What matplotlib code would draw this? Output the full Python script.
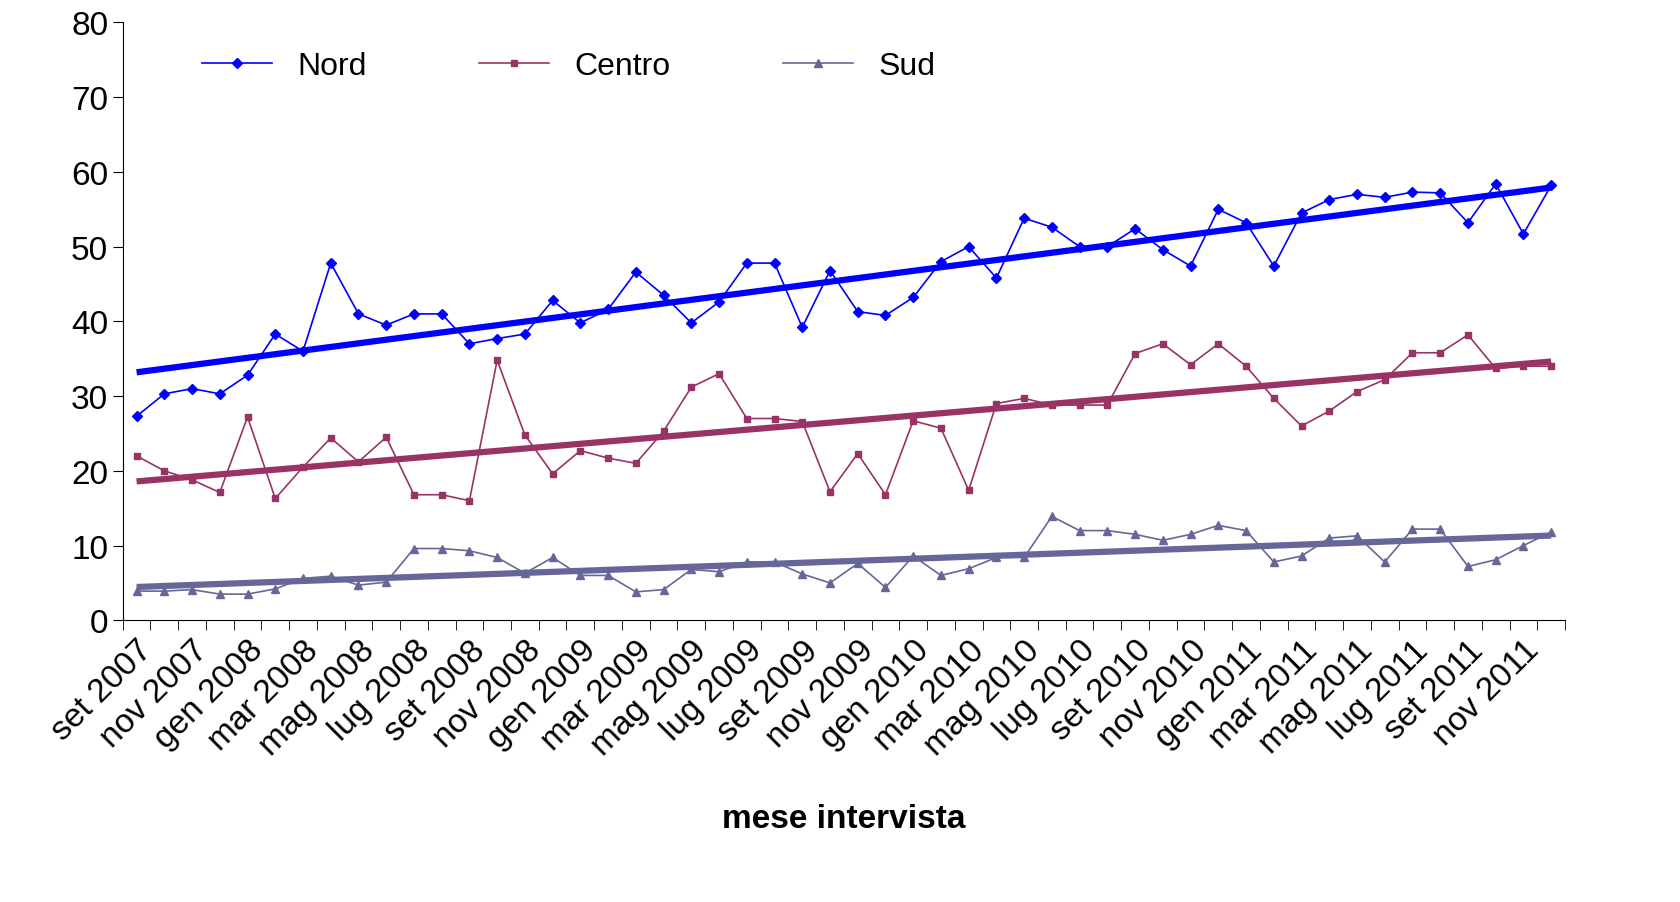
import numpy as np
import matplotlib.pyplot as plt

mesi = ['set', 'ott', 'nov', 'dic', 'gen', 'feb', 'mar', 'apr', 'mag', 'giu', 'lug', 'ago']
labels = []
for i in range(52):
    y = 2007 + (8 + i) // 12
    labels.append('%s %d' % (mesi[i % 12], y))

nord = [27.3, 30.3, 31, 30.3, 32.8, 38.3, 36, 47.8, 41, 39.5, 41, 41, 37, 37.7, 38.3, 42.8,
        39.8, 41.6, 46.6, 43.5, 39.8, 42.6, 47.8, 47.8, 39.2, 46.8, 41.3, 40.8, 43.2, 48, 50,
        45.8, 53.8, 52.6, 50, 50, 52.4, 49.6, 47.4, 55, 53.2, 47.4, 54.5, 56.3, 57, 56.6,
        57.3, 57.2, 53.2, 58.4, 51.7, 58.2]
centro = [22, 20, 18.8, 17.1, 27.2, 16.3, 20.5, 24.4, 21.2, 24.5, 16.8, 16.8, 16, 34.8, 24.8,
          19.6, 22.7, 21.7, 21, 25.3, 31.2, 33, 27, 27, 26.6, 17.2, 22.3, 16.8, 26.7, 25.7,
          17.4, 29, 29.7, 28.8, 28.8, 28.8, 35.7, 37, 34.2, 37, 34, 29.7, 26, 28, 30.6, 32.2,
          35.8, 35.8, 38.2, 33.7, 34, 34]
sud = [3.9, 3.9, 4.1, 3.5, 3.5, 4.2, 5.6, 5.9, 4.7, 5.1, 9.6, 9.6, 9.3, 8.4, 6.3, 8.4, 6, 6,
       3.8, 4.1, 6.8, 6.5, 7.8, 7.8, 6.2, 5, 7.6, 4.4, 8.6, 6, 6.9, 8.4, 8.4, 13.9, 12, 12,
       11.5, 10.7, 11.5, 12.7, 12, 7.8, 8.6, 11, 11.3, 7.8, 12.2, 12.2, 7.2, 8.1, 10, 11.8]

plt.rcParams['font.family'] = ['Liberation Sans', 'DejaVu Sans']
fig = plt.figure(figsize=(16.81, 9.03), dpi=100)
ax = fig.add_axes([0.073, 0.312, 0.858, 0.662])
x = np.arange(len(nord))

series = [('Nord', nord, '#0000FF', 'D', 5), ('Centro', centro, '#993366', 's', 5),
          ('Sud', sud, '#666699', '^', 6)]
for name, vals, col, mk, ms in series:
    ax.plot(x, vals, color=col, marker=mk, markersize=ms, lw=1.2, label=name)
    k, q = np.polyfit(x, vals, 1)
    ax.plot(x, k * x + q, color=col, lw=4.5, solid_capstyle='butt')

ax.set_xlim(-0.5, 51.5)
ax.set_ylim(0, 80)
ax.set_yticks(range(0, 81, 10))
ax.set_xticks(x[::2])
ax.set_xticklabels(labels[::2], rotation=45, ha='right', rotation_mode='anchor')
ax.set_xticks(np.arange(-0.5, 52, 1), minor=True)
ax.tick_params(axis='x', which='major', length=0, labelsize=24, pad=10)
ax.tick_params(axis='x', which='minor', length=7, color='black')
ax.tick_params(axis='y', labelsize=24, length=7, direction='out')
for s in ['top', 'right']:
    ax.spines[s].set_visible(False)
ax.set_xlabel('mese intervista', fontsize=24, fontweight='bold', labelpad=30)
ax.legend(loc='upper left', ncol=3, frameon=False, fontsize=23, columnspacing=3.5,
          handlelength=2.2, bbox_to_anchor=(0.035, 1.0))
fig.savefig('out.png')
